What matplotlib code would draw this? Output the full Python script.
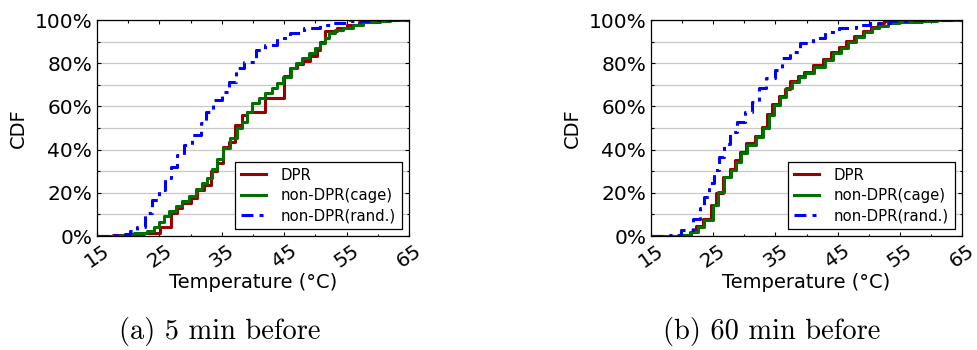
import matplotlib
matplotlib.use('Agg')
import matplotlib.pyplot as plt
from matplotlib.ticker import MultipleLocator, FuncFormatter

# step CDFs of inlet temperature, read as (temperature in C, cumulative %)
a_dpr_t = [17.5, 20.0, 22.5, 25.1, 26.9, 27.8, 28.6, 30.0, 31.0, 32.1, 33.2, 34.2, 35.2, 36.1, 37.1, 38.2,
           39.0, 41.9, 44.9, 45.9, 47.0, 48.0, 49.1, 50.2, 50.8, 51.6, 53.4, 55.0, 57.0, 59.0, 61.0]
a_dpr_p = [0.3, 0.8, 1.2, 4.0, 10.8, 12.8, 15.5, 17.4, 21.3, 23.6, 30.0, 34.0, 41.0, 43.5, 51.4, 56.0,
           57.2, 63.7, 74.0, 77.6, 79.5, 81.0, 83.5, 86.0, 90.0, 95.0, 96.5, 97.7, 98.9, 99.5, 100]

a_cage_t = [16.5, 19.0, 21.0, 23.0, 24.1, 24.9, 25.7, 26.5, 27.6, 28.6, 29.7, 30.8, 31.8, 32.6, 33.4, 34.2,
            35.2, 36.3, 37.4, 38.3, 39.0, 39.9, 41.0, 42.0, 43.0, 43.9, 44.8, 46.1, 46.9, 47.9, 48.9, 49.9,
            50.7, 51.5, 52.1, 53.1, 54.5, 56.0, 57.7, 60.3, 62.0]
a_cage_p = [0.2, 0.6, 1.2, 2.5, 4.0, 6.3, 9.4, 11.7, 14.0, 16.3, 18.5, 21.6, 24.7, 27.0, 30.9, 35.5,
            40.6, 45.2, 49.8, 53.0, 57.5, 61.4, 63.7, 66.0, 68.5, 71.0, 73.8, 77.6, 80.0, 82.3, 84.6, 86.9,
            89.2, 91.5, 93.8, 95.4, 96.5, 97.7, 98.9, 99.7, 100]

a_rand_t = [17.0, 19.5, 20.3, 21.4, 22.7, 23.8, 24.9, 25.9, 26.8, 27.8, 28.9, 30.2, 31.6, 32.4, 33.6, 35.0,
            36.1, 37.2, 38.5, 40.5, 41.9, 43.8, 46.0, 48.2, 50.7, 52.8, 55.5, 58.5]
a_rand_p = [0.3, 1.0, 2.2, 4.3, 10.5, 16.7, 21.3, 26.7, 32.1, 37.5, 42.1, 46.8, 52.2, 57.5, 63.0, 66.8,
            71.4, 77.6, 80.7, 86.1, 88.4, 91.5, 93.8, 96.1, 97.7, 98.8, 99.5, 100]

b_dpr_t = [17.3, 19.3, 21.2, 22.3, 23.4, 24.7, 25.5, 26.6, 27.7, 28.5, 29.3, 30.3, 31.7, 32.8, 33.7, 34.5,
           35.6, 36.5, 37.4, 38.6, 39.6, 41.0, 42.7, 44.0, 45.3, 46.4, 47.7, 49.1, 50.4, 51.5, 52.4, 54.2]
b_dpr_p = [0.1, 0.3, 2.0, 4.5, 8.0, 14.5, 20.0, 27.5, 31.0, 35.0, 38.8, 43.0, 46.5, 50.5, 56.5, 61.0,
           65.0, 68.0, 71.6, 74.2, 75.8, 79.0, 82.0, 85.0, 87.5, 90.5, 92.8, 95.0, 96.8, 98.5, 99.5, 100]

b_cage_t = [17.5, 19.5, 21.4, 22.5, 23.6, 24.9, 25.7, 26.8, 27.9, 28.7, 29.5, 30.5, 31.9, 33.0, 33.9, 34.7,
            35.8, 36.7, 37.6, 38.8, 39.8, 41.2, 42.9, 44.2, 45.5, 46.6, 47.9, 49.3, 50.6, 51.7, 53.1, 54.9,
            58.5, 61.0]
b_cage_p = [0.1, 0.3, 2.0, 4.3, 7.4, 14.5, 20.5, 27.5, 30.6, 34.4, 38.3, 42.1, 46.0, 49.8, 56.0, 60.6,
            64.5, 68.4, 71.4, 73.8, 75.4, 78.4, 81.5, 84.6, 86.9, 90.0, 92.3, 94.6, 96.1, 97.2, 98.5, 99.2,
            99.7, 100]

b_rand_t = [17.0, 18.0, 19.8, 21.7, 22.8, 23.6, 24.4, 25.2, 26.0, 26.8, 27.7, 28.8, 30.1, 31.3, 32.3, 33.5,
            34.9, 36.1, 37.3, 39.0, 41.0, 43.0, 45.3, 48.0, 50.2, 53.5, 57.0]
b_rand_p = [0.2, 0.5, 2.8, 8.1, 12.8, 18.2, 24.4, 30.6, 36.7, 42.6, 48.0, 52.9, 57.5, 62.2, 68.4, 73.0,
            76.9, 82.3, 85.3, 89.2, 91.5, 94.6, 96.1, 97.7, 98.5, 99.5, 100]

labels = ['DPR', 'non-DPR(cage)', 'non-DPR(rand.)']
captions = ['(a) 5 min before', '(b) 60 min before']
x_ticks = [15, 25, 35, 45, 55, 65]

panels = [
    [(a_dpr_t, a_dpr_p), (a_cage_t, a_cage_p), (a_rand_t, a_rand_p)],
    [(b_dpr_t, b_dpr_p), (b_cage_t, b_cage_p), (b_rand_t, b_rand_p)],
]

colors = ['#990000', '#007000', '#0000ff']

plt.rcParams['font.family'] = 'DejaVu Sans'
plt.rcParams['xtick.direction'] = 'in'
plt.rcParams['ytick.direction'] = 'in'
plt.rcParams['xtick.top'] = True
plt.rcParams['ytick.right'] = True

fig = plt.figure(figsize=(9.78, 3.5), dpi=100)
axes = [fig.add_axes([97 / 978, 114 / 350, 312 / 978, 216 / 350]),
        fig.add_axes([651 / 978, 114 / 350, 311 / 978, 216 / 350])]
caption_x = [219.5 / 978, 771.7 / 978]


def pct(v, pos):
    return '%d%%' % v


for ax, series, caption, cx in zip(axes, panels, captions, caption_x):
    for (t, p), label, color in zip(series, labels, colors):
        t = [15] + list(t) + [65]
        p = [0] + list(p) + [100]
        line, = ax.step(t, p, where='post', color=color, lw=2.2, label=label)
        if label == 'non-DPR(rand.)':
            line.set_dashes([3.9, 2.0, 1.3, 2.0])

    ax.set_xlim(15, 65)
    ax.set_ylim(0, 100)
    ax.set_xticks(x_ticks)
    ax.xaxis.set_minor_locator(MultipleLocator(5))
    ax.yaxis.set_major_locator(MultipleLocator(20))
    ax.yaxis.set_minor_locator(MultipleLocator(10))
    ax.yaxis.set_major_formatter(FuncFormatter(pct))
    ax.grid(True, axis='y', which='both', color='#c8c8c8', lw=0.9)
    ax.set_axisbelow(True)
    ax.tick_params(which='major', length=3.2, width=0.8, labelsize=14.5)
    ax.tick_params(which='minor', length=1.8, width=0.8)
    for lbl in ax.get_xticklabels():
        lbl.set_rotation(35)
        lbl.set_ha('center')
    for sp in ax.spines.values():
        sp.set_linewidth(0.9)
    ax.set_xlabel('Temperature (°C)', fontsize=14, labelpad=1)
    ax.set_ylabel('CDF', fontsize=14, labelpad=5)

    leg = ax.legend(loc='lower right', fontsize=10.7, fancybox=False, framealpha=1,
                    edgecolor='black', handlelength=1.7, handletextpad=1.0,
                    labelspacing=0.35, borderaxespad=0.47)
    leg.get_frame().set_linewidth(0.9)

    fig.text(cx, 18 / 350, caption, ha='center', va='center',
             fontfamily='cmr10', fontsize=20.5)

fig.savefig('out.png', dpi=100)
